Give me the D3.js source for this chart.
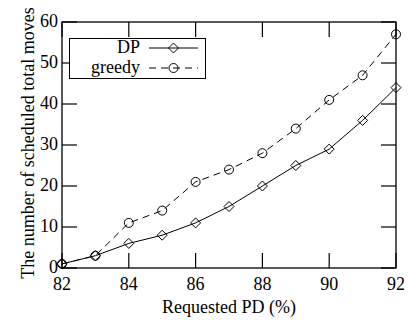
<!DOCTYPE html>
<html>
<head>
<meta charset="utf-8">
<script src="https://cdn.jsdelivr.net/npm/d3@7"></script>
<style>
  body { margin: 0; background: #fff; }
  text { font-family: "Liberation Serif", "Times New Roman", Times, "DejaVu Serif", serif; }
</style>
</head>
<body>
<svg id="canvas" width="417" height="325"></svg>
<script>
// requested PD values on the x axis
const PD = [82, 83, 84, 85, 86, 87, 88, 89, 90, 91, 92];
const DP_MOVES = [1, 3, 6, 8, 11, 15, 20, 25, 29, 36, 44];
const GREEDY_MOVES = [1, 3, 11, 14, 21, 24, 28, 34, 41, 47, 57];
const X_TICKS = [82, 84, 86, 88, 90, 92];
const Y_TICKS = [0, 10, 20, 30, 40, 50, 60];
const SERIES = ["DP", "greedy"];

const CANVAS = d3.select("#canvas");
const M = { left: 62, right: 396, top: 22, bottom: 268 };
const TICK = 15;
const FONT = "'Liberation Serif', 'Times New Roman', Times, serif";

var x = d3.scaleLinear().domain([82, 92]).range([M.left, M.right]);
var y = d3.scaleLinear().domain([0, 60]).range([M.bottom, M.top]);

/**
 * draws a diamond or circle marker at (cx, cy)
 */
function drawMarker(g, kind, cx, cy) {
  if (kind === "DP") {
    g.append("path")
      .attr("d", `M${cx},${cy - 5}L${cx + 5},${cy}L${cx},${cy + 5}L${cx - 5},${cy}Z`)
      .attr("fill", "none")
      .attr("stroke", "#000")
      .attr("stroke-width", 1);
  } else {
    g.append("circle")
      .attr("cx", cx).attr("cy", cy).attr("r", 4.5)
      .attr("fill", "none")
      .attr("stroke", "#000")
      .attr("stroke-width", 1);
  }
}

// ticks (inward, on all four sides)
var ticks = CANVAS.append("g").attr("stroke", "#000").attr("stroke-width", 1.2);
X_TICKS.forEach(function (t) {
  ticks.append("line").attr("x1", x(t)).attr("x2", x(t)).attr("y1", M.bottom).attr("y2", M.bottom - TICK);
  ticks.append("line").attr("x1", x(t)).attr("x2", x(t)).attr("y1", M.top).attr("y2", M.top + TICK);
});
Y_TICKS.forEach(function (t) {
  ticks.append("line").attr("x1", M.left).attr("x2", M.left + TICK).attr("y1", y(t)).attr("y2", y(t));
  ticks.append("line").attr("x1", M.right).attr("x2", M.right - TICK).attr("y1", y(t)).attr("y2", y(t));
});

// tick labels
CANVAS.append("g").selectAll("text").data(X_TICKS).join("text")
  .attr("x", d => x(d)).attr("y", M.bottom + 22)
  .attr("text-anchor", "middle")
  .attr("font-family", FONT)
  .attr("font-size", 18)
  .text(d => d);

CANVAS.append("g").selectAll("text").data(Y_TICKS).join("text")
  .attr("x", M.left - 4).attr("y", d => y(d) + 5)
  .attr("text-anchor", "end")
  .attr("font-family", FONT)
  .attr("font-size", 18)
  .text(d => d);

// axis titles
CANVAS.append("text")
  .attr("x", (M.left + M.right) / 2).attr("y", 313)
  .attr("text-anchor", "middle")
  .attr("font-family", FONT)
  .attr("font-size", 18)
  .text("Requested PD (%)");

CANVAS.append("text")
  .attr("transform", `translate(34,${(M.top + M.bottom) / 2 - 2}) rotate(-90)`)
  .attr("text-anchor", "middle")
  .attr("font-family", FONT)
  .attr("font-size", 18)
  .text("The number of scheduled total moves");

// series lines and markers
var line = d3.line().x((d, i) => x(PD[i])).y(d => y(d));
[DP_MOVES, GREEDY_MOVES].forEach(function (vals, k) {
  var g = CANVAS.append("g");
  g.append("path")
    .attr("d", line(vals))
    .attr("fill", "none")
    .attr("stroke", "#000")
    .attr("stroke-width", 1)
    .attr("stroke-dasharray", k === 1 ? "7,5" : null);
  vals.forEach(function (v, i) { drawMarker(g, SERIES[k], x(PD[i]), y(v)); });
});

// frame
CANVAS.append("rect")
  .attr("x", M.left).attr("y", M.top)
  .attr("width", M.right - M.left).attr("height", M.bottom - M.top)
  .attr("fill", "none").attr("stroke", "#000").attr("stroke-width", 1.3);

// legend
var leg = CANVAS.append("g");
leg.append("rect")
  .attr("x", 69.5).attr("y", 38.5).attr("width", 136).attr("height", 40)
  .attr("fill", "#fff").attr("stroke", "#000").attr("stroke-width", 1);
SERIES.forEach(function (s, k) {
  var ly = 48 + k * 20;
  leg.append("text")
    .attr("x", 140).attr("y", ly + 5)
    .attr("text-anchor", "end")
    .attr("font-family", FONT)
    .attr("font-size", 18)
    .text(s);
  leg.append("line")
    .attr("x1", 149).attr("x2", 198).attr("y1", ly).attr("y2", ly)
    .attr("stroke", "#000").attr("stroke-width", 1)
    .attr("stroke-dasharray", k === 1 ? "7,5" : null);
  drawMarker(leg, s, 173.5, ly);
});
</script>
</body>
</html>
